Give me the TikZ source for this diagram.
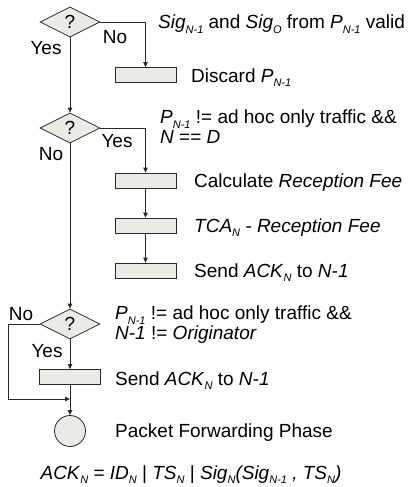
\documentclass[tikz,border=0pt]{standalone}
\usepackage{fontspec}
\setmainfont{Liberation Sans}
\usetikzlibrary{shapes.geometric,arrows.meta}
\definecolor{boxfill}{RGB}{235,235,230}
\definecolor{linec}{RGB}{40,40,40}
\newcommand\sbs[1]{\raisebox{-0.22em}{\fontsize{11}{11}\selectfont\itshape #1}}
\begin{document}
\begin{tikzpicture}[x=1pt,y=-1pt,
  font=\fontsize{19}{20}\selectfont,
  line/.style={draw=linec, line width=0.8pt},
  arr/.style={line, -{Triangle[length=5pt,width=4.5pt]}},
  dec/.style={diamond, draw=linec, line width=0.8pt, fill=boxfill, aspect=2,
    minimum width=60pt, minimum height=30pt, inner sep=0pt},
  act/.style={rectangle, draw=linec, line width=0.8pt, fill=boxfill,
    minimum width=61pt, minimum height=15pt, inner sep=0pt},
  stopc/.style={circle, draw=linec, line width=0.8pt, fill=boxfill,
    minimum size=31pt, inner sep=0pt},
  lbl/.style={anchor=base west, inner sep=0pt},
  lbl2/.style={anchor=west, inner sep=0pt, align=left},
  yn/.style={anchor=base, inner sep=0pt}]
\useasboundingbox (0,0) rectangle (412,487);

% shapes
\node[dec] (d1) at (70,22) {?};
\node[act] (b0) at (145.5,75) {};
\node[dec] (d2) at (70,128) {?};
\node[act] (b1) at (145.5,180.5) {};
\node[act] (b2) at (145.5,225.5) {};
\node[act] (b3) at (145.5,270.5) {};
\node[dec] (d3) at (70,324) {?};
\node[act] (b4) at (70,377) {};
\node[stopc] (e) at (70,431) {};
\coordinate (nl) at (8,399);
\coordinate (m) at (70,399);

% connectors
\draw[arr] (d1.east) -| (b0.north);
\draw[arr] (d1.south) -- (d2.north);
\draw[arr] (d2.east) -| (b1.north);
\draw[arr] (b1.south) -- (b2.north);
\draw[arr] (b2.south) -- (b3.north);
\draw[arr] (d2.south) -- (d3.north);
\draw[arr] (d3.south) -- (b4.north);
\draw[arr] (b4.south) -- (e.north);
\draw[arr] (d3.west) -| (nl) -- (m);

% yes/no labels
\node[yn] (n1) at (115,44) {No};
\node[yn] (y1) at (46,55) {Yes};
\node[yn] (y2) at (117,147) {Yes};
\node[yn] (n2) at (51,160) {No};
\node[yn] (n3) at (21,320) {No};
\node[yn] (y3) at (47,357) {Yes};

% texts
\node[lbl] (t1) at (158,29) {\textit{Sig}\sbs{N-1} and \textit{Sig}\sbs{O} from \textit{P}\sbs{N-1} valid};
\node[lbl] (t2) at (191,82) {Discard \textit{P}\sbs{N-1}};
\node[lbl2] (t3) at (160,127) {\textit{P}\sbs{N-1} != ad hoc only traffic \&\&\\\textit{N} == \textit{D}};
\node[lbl] (t4) at (194,187.5) {Calculate \textit{Reception Fee}};
\node[lbl] (t5) at (194,232.5) {\textit{TCA}\sbs{N} \textit{- Reception Fee}};
\node[lbl] (t6) at (194,277.5) {Send \textit{ACK}\sbs{N} to \textit{N-1}};
\node[lbl2] (t7) at (115,325) {\textit{P}\sbs{N-1} != ad hoc only traffic \&\&\\\textit{N-1} != \textit{Originator}};
\node[lbl] (t8) at (115,385) {Send \textit{ACK}\sbs{N} to \textit{N-1}};
\node[lbl] (t9) at (115,437) {Packet Forwarding Phase};
\node[yn] (t10) at (191,479) {\textit{ACK}\sbs{N} = \textit{ID}\sbs{N} | \textit{TS}\sbs{N} | \textit{Sig}\sbs{N}\textit{(Sig}\sbs{N-1} \textit{, TS}\sbs{N}\textit{)}};
\end{tikzpicture}
\end{document}
